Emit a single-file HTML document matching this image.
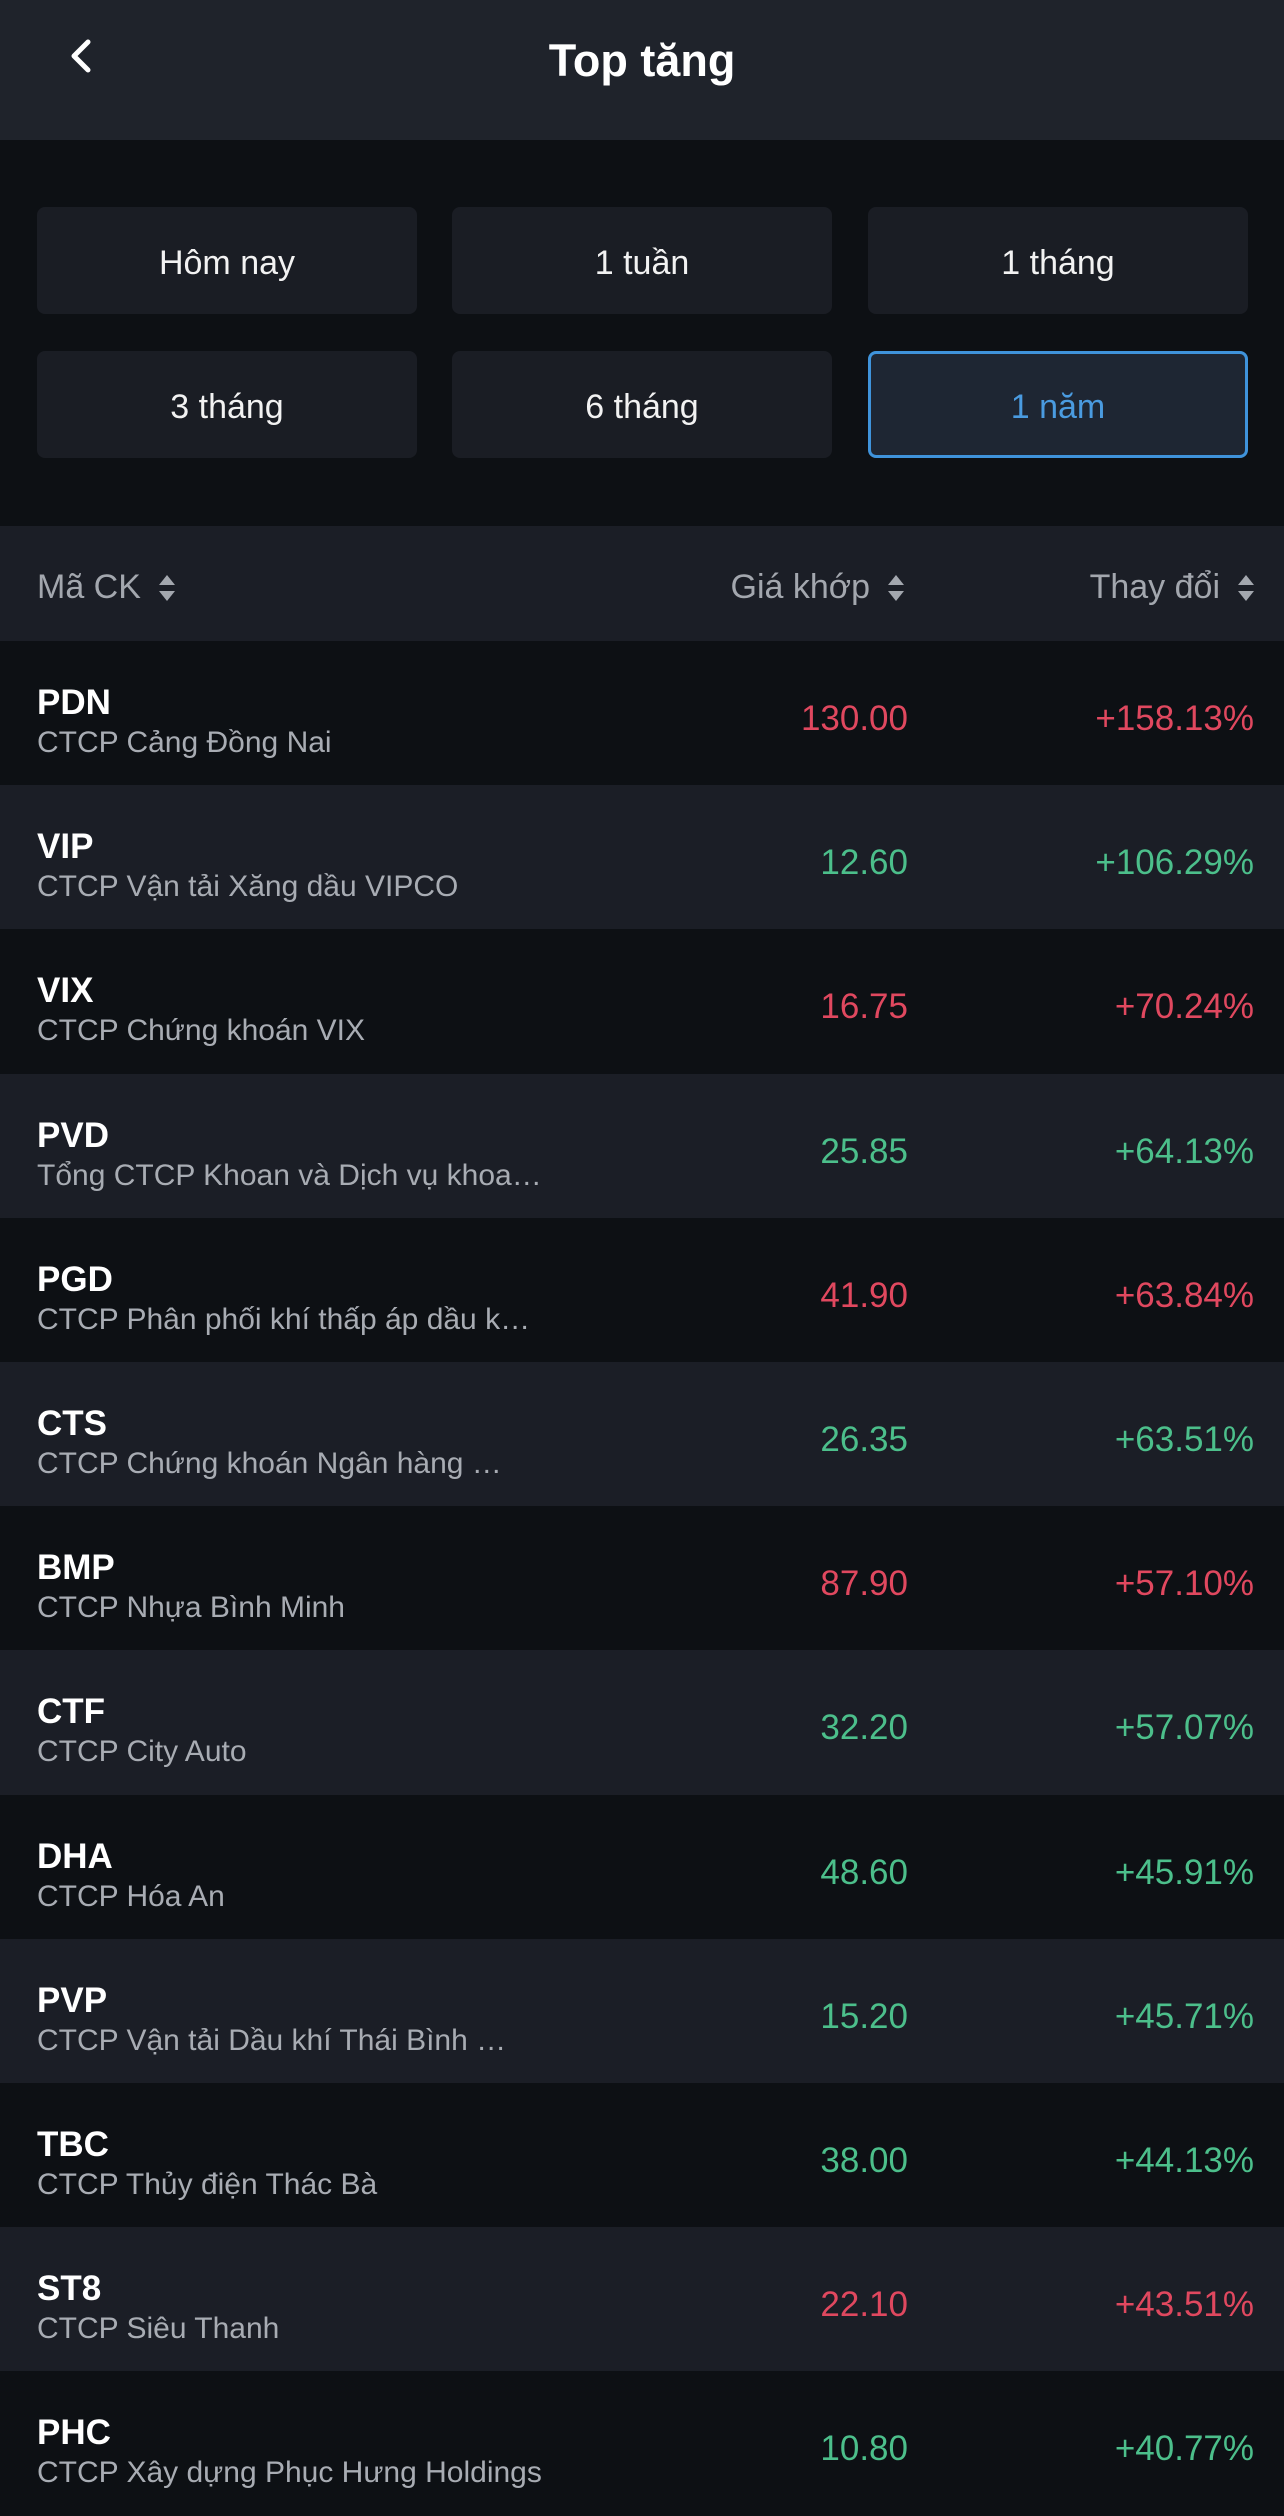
<!DOCTYPE html>
<html><head><meta charset="utf-8"><style>
*{margin:0;padding:0;box-sizing:border-box}
body{width:1284px;height:2500px;background:#0d1014;font-family:"Liberation Sans",sans-serif;color:#fff;position:relative;overflow:hidden}
.abs{position:absolute}
.btn{position:absolute;width:380px;height:107px;background:#1a1d24;border-radius:8px;display:flex;align-items:center;justify-content:center;font-size:34px;color:#f2f2f2;padding-top:6px}
.btn.sel{background:#1e2633;border:3px solid #3f93db;color:#4a9be0}
.th{position:absolute;top:530px;height:115px;display:flex;align-items:center;font-size:34px;color:#a3a7ae}
.sort{display:inline-block;margin-left:18px;width:16px;position:relative;height:26px}
.sort:before{content:"";position:absolute;top:0;left:0;border-left:8px solid transparent;border-right:8px solid transparent;border-bottom:10px solid #a3a7ae}
.sort:after{content:"";position:absolute;bottom:0;left:0;border-left:8px solid transparent;border-right:8px solid transparent;border-top:10px solid #a3a7ae}
.row{position:absolute;left:0;width:1284px;height:144.2px}
.tk{position:absolute;left:37px;top:42px;font-size:35px;font-weight:bold}
.nm{position:absolute;left:37px;top:85px;font-size:30px;color:#a8acb3;white-space:nowrap}
.pr{position:absolute;right:383px;top:58px;font-size:35px}
.ch{position:absolute;right:37px;top:58px;font-size:35px}
</style></head><body>
<div class="abs" style="left:0;top:0;width:1284px;height:140px;background:#1f232b"></div>
<div class="abs" style="left:62px;top:36px;width:40px;height:40px">
<svg width="40" height="40"><polyline points="26,6 12,20 26,34" fill="none" stroke="#fff" stroke-width="5" stroke-linecap="round" stroke-linejoin="round"/></svg></div>
<div class="abs" style="left:0;width:1284px;top:35px;text-align:center;font-size:45px;font-weight:bold">Top tăng</div>

<div class="btn" style="left:37px;top:207px">Hôm nay</div>
<div class="btn" style="left:452px;top:207px">1 tuần</div>
<div class="btn" style="left:868px;top:207px">1 tháng</div>
<div class="btn" style="left:37px;top:351px">3 tháng</div>
<div class="btn" style="left:452px;top:351px">6 tháng</div>
<div class="btn sel" style="left:868px;top:351px">1 năm</div>

<div class="abs" style="left:0;top:526px;width:1284px;height:115px;background:#1b1e26"></div>
<div class="th" style="left:37px">Mã CK<span class="sort"></span></div>
<div class="th" style="right:380px">Giá khớp<span class="sort"></span></div>
<div class="th" style="right:30px">Thay đổi<span class="sort"></span></div>

<div id="rows"></div>
<script>
const tickers=["PDN","VIP","VIX","PVD","PGD","CTS","BMP","CTF","DHA","PVP","TBC","ST8","PHC"];
const names=["CTCP Cảng Đồng Nai","CTCP Vận tải Xăng dầu VIPCO","CTCP Chứng khoán VIX","Tổng CTCP Khoan và Dịch vụ khoa…","CTCP Phân phối khí thấp áp dầu k…","CTCP Chứng khoán Ngân hàng …","CTCP Nhựa Bình Minh","CTCP City Auto","CTCP Hóa An","CTCP Vận tải Dầu khí Thái Bình …","CTCP Thủy điện Thác Bà","CTCP Siêu Thanh","CTCP Xây dựng Phục Hưng Holdings"];
const prices=["130.00","12.60","16.75","25.85","41.90","26.35","87.90","32.20","48.60","15.20","38.00","22.10","10.80"];
const changes=["+158.13%","+106.29%","+70.24%","+64.13%","+63.84%","+63.51%","+57.10%","+57.07%","+45.91%","+45.71%","+44.13%","+43.51%","+40.77%"];
const up=[0,1,0,1,0,1,0,1,1,1,1,0,1];
const c=document.getElementById('rows');
tickers.forEach((t,i)=>{
 const r=document.createElement('div');r.className='row';
 
 
 r.style.top=(641+i*144.2)+'px';r.style.background=i%2?'#1b1e26':'#0d1014';
 const col=up[i]?'#4cbf8b':'#e0485f';
 r.innerHTML=`<div class="tk">${t}</div><div class="nm">${names[i]}</div><div class="pr" style="color:${col};right:376px">${prices[i]}</div><div class="ch" style="color:${col};right:30px">${changes[i]}</div>`;
 c.appendChild(r);
});
</script>
</body></html>
